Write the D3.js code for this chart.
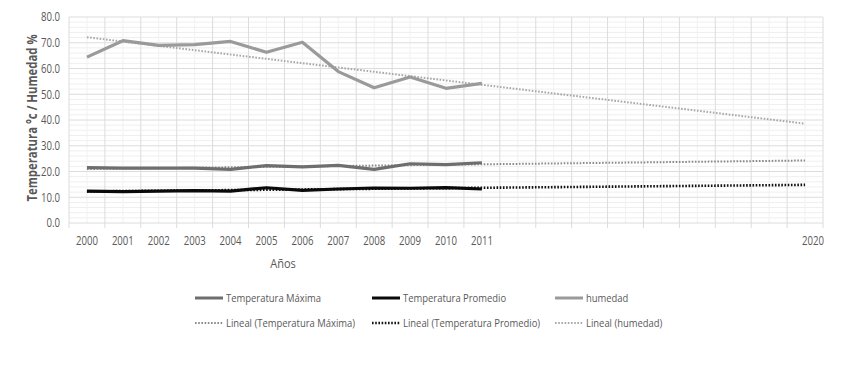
<!DOCTYPE html>
<html>
<head>
<meta charset="utf-8">
<script src="https://cdn.jsdelivr.net/npm/d3@7"></script>
<style>
  body { margin: 0; background: #fff; }
  text { font-family: "Open Sans", sans-serif; fill: #595959; }
</style>
</head>
<body>
<div id="chart-area"></div>
<script>
// Data
// ****
const years = ["2000","2001","2002","2003","2004","2005","2006","2007","2008","2009","2010","2011"]
const slots = d3.range(21)   // category slots on the axis, last one labelled 2020
const tickLabels = ["2000","2001","2002","2003","2004","2005","2006","2007","2008","2009","2010","2011","","","","","","","","","2020"]
const tempMax = [21.5, 21.3, 21.3, 21.3, 20.8, 22.3, 21.8, 22.4, 20.8, 23.0, 22.7, 23.4]
const tempProm = [12.4, 12.2, 12.4, 12.6, 12.4, 13.7, 12.7, 13.2, 13.6, 13.5, 13.7, 13.2]
const humedad = [64.4, 70.8, 69.0, 69.3, 70.5, 66.3, 70.2, 58.8, 52.5, 56.7, 52.3, 54.2]
const yTicks = [0, 10, 20, 30, 40, 50, 60, 70, 80]

// Config
// ******
const W = 852, H = 368
const margin = {top: 17, right: 29, bottom: 145, left: 69}
const width = W - margin.left - margin.right
const height = H - margin.top - margin.bottom

const svg = d3.select("#chart-area").append("svg")
	.attr("width", W).attr("height", H)
const g = svg.append("g")
	.attr("transform", "translate(" + margin.left + ", " + margin.top + ")")

const x = d3.scaleBand().domain(slots).range([0, width])
const cx = i => x(i) + x.bandwidth() / 2
const y = d3.scaleLinear().domain([0, 80]).range([height, 0])

// squeeze text horizontally, the original uses a narrow font
function condense(sel, k) {
	sel.each(function() {
		const w = this.getComputedTextLength()
		if (w > 0) d3.select(this).attr("textLength", w * k).attr("lengthAdjust", "spacingAndGlyphs")
	})
}

// Grid
// ****
g.append("g").selectAll("line").data(d3.range(0, 81, 2).filter(v => v % 10))
	.join("line")
	.attr("x1", 0).attr("x2", width)
	.attr("y1", d => y(d)).attr("y2", d => y(d))
	.attr("stroke", "#efefef").attr("stroke-width", 1)
g.append("g").selectAll("line").data(slots)
	.join("line")
	.attr("x1", d => cx(d)).attr("x2", d => cx(d))
	.attr("y1", 0).attr("y2", height)
	.attr("stroke", "#f1f1f1").attr("stroke-width", 1)
g.append("g").selectAll("line").data(yTicks)
	.join("line")
	.attr("x1", 0).attr("x2", width)
	.attr("y1", d => y(d)).attr("y2", d => y(d))
	.attr("stroke", "#dcdcdc").attr("stroke-width", 1)
g.append("g").selectAll("line").data(d3.range(22))
	.join("line")
	.attr("x1", d => d * x.bandwidth()).attr("x2", d => d * x.bandwidth())
	.attr("y1", 0).attr("y2", height + 5)
	.attr("stroke", "#dcdcdc").attr("stroke-width", 1)

// Axes
// ****
const yAxis = d3.axisLeft(y).tickValues(yTicks).tickFormat(d3.format(".1f")).tickSize(0).tickPadding(9)
g.append("g").call(yAxis)
	.call(a => a.select(".domain").remove())
	.selectAll("text").style("font-size", "12px").attr("fill", "#595959")
	.call(condense, 0.8)

const xAxis = d3.axisBottom(x).tickFormat(i => tickLabels[i]).tickSize(0).tickPadding(13)
g.append("g").attr("transform", "translate(0, " + height + ")").call(xAxis)
	.call(a => a.select(".domain").remove())
	.selectAll("text").style("font-size", "12px").attr("fill", "#595959")
	.attr("dx", (d, i) => i === 20 ? 8 : 0)
	.call(condense, 0.8)

g.append("text")
	.attr("transform", "rotate(-90)")
	.attr("x", -101).attr("y", -32)
	.attr("text-anchor", "middle")
	.style("font-size", "13.5px").style("font-weight", "bold")
	.text("Temperatura °c / Humedad %")
	.call(condense, 0.84)

g.append("text")
	.attr("x", 214).attr("y", height + 45)
	.attr("text-anchor", "middle")
	.style("font-size", "13px")
	.text("Años")
	.call(condense, 0.85)

// Trend lines (least squares, as a spreadsheet trendline)
// ************
function trend(vals) {
	const xs = vals.map((v, i) => i)
	const mx = d3.mean(xs), my = d3.mean(vals)
	const b = d3.sum(xs, (xi, i) => (xi - mx) * (vals[i] - my)) / d3.sum(xs, xi => (xi - mx) ** 2)
	const a = my - b * mx
	return [[0, a], [20, a + b * 20]]
}

const series = [
	{name: "Temperatura Máxima", vals: tempMax, color: "#6e6e6e", tcolor: "#8a8a8a", tw: 2},
	{name: "Temperatura Promedio", vals: tempProm, color: "#0a0a0a", tcolor: "#111", tw: 2.6},
	{name: "humedad", vals: humedad, color: "#9a9a9a", tcolor: "#a8a8a8", tw: 2}
]

const line = d3.line().x(d => cx(d[0])).y(d => y(d[1]))

series.forEach(s => {
	g.append("path")
		.datum(trend(s.vals))
		.attr("d", line)
		.attr("fill", "none").attr("stroke", s.tcolor)
		.attr("stroke-width", s.tw).attr("stroke-dasharray", "1.6 1.6")
})
series.forEach(s => {
	g.append("path")
		.datum(s.vals.map((v, i) => [i, v]))
		.attr("d", line)
		.attr("fill", "none").attr("stroke", s.color)
		.attr("stroke-width", 3.2).attr("stroke-linejoin", "round")
})

// Legend
// ******
const legX = [195, 372, 555]
const legY = [298, 323]
const lg = svg.append("g")
series.forEach((s, i) => {
	lg.append("line")
		.attr("x1", legX[i]).attr("x2", legX[i] + 28)
		.attr("y1", legY[0]).attr("y2", legY[0])
		.attr("stroke", s.color).attr("stroke-width", 3)
	lg.append("text")
		.attr("x", legX[i] + 31).attr("y", legY[0] + 4)
		.style("font-size", "11.5px").text(s.name)
		.call(condense, 0.82)
	lg.append("line")
		.attr("x1", legX[i]).attr("x2", legX[i] + 28)
		.attr("y1", legY[1]).attr("y2", legY[1])
		.attr("stroke", s.tcolor).attr("stroke-width", s.tw).attr("stroke-dasharray", "1.6 1.6")
	lg.append("text")
		.attr("x", legX[i] + 31).attr("y", legY[1] + 4)
		.style("font-size", "11.5px").text("Lineal (" + s.name + ")")
		.call(condense, 0.82)
})
</script>
</body>
</html>
